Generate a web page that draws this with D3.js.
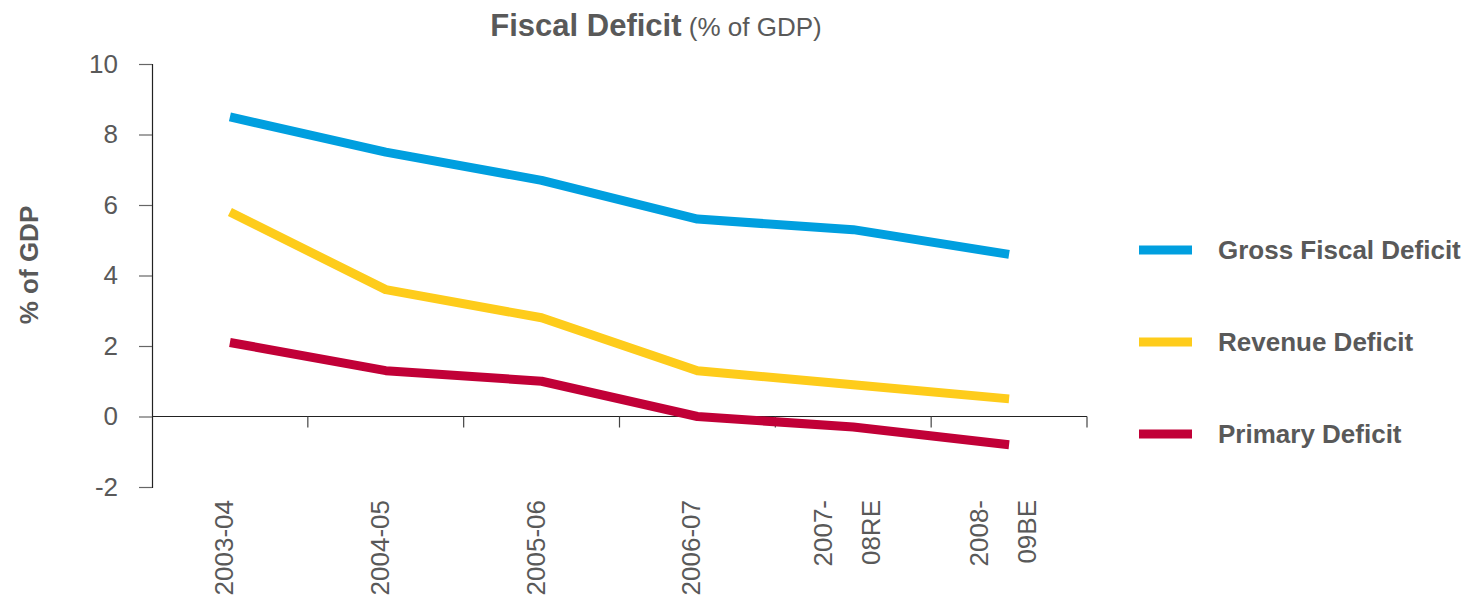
<!DOCTYPE html>
<html>
<head>
<meta charset="utf-8">
<script src="https://cdn.jsdelivr.net/npm/d3@7"></script>
<style>
  html, body { margin: 0; padding: 0; background: #fff; }
  svg { display: block; font-family: "Liberation Sans", Arial, sans-serif; }
</style>
</head>
<body>
<svg id="chart" width="1472" height="596"></svg>
<script>
// Fiscal years on the category axis (each label may wrap onto two lines)
const years = ["2003-04", "2004-05", "2005-06", "2006-07", "2007-08RE", "2008-09BE"];
const yearLabels = [["2003-04"], ["2004-05"], ["2005-06"], ["2006-07"], ["2007-", "08RE"], ["2008-", "09BE"]];

// Deficits as % of GDP
const grossFiscalDeficit = [8.5, 7.5, 6.7, 5.6, 5.3, 4.6];
const revenueDeficit     = [5.8, 3.6, 2.8, 1.3, 0.9, 0.5];
const primaryDeficit     = [2.1, 1.3, 1.0, 0.0, -0.3, -0.8];

const yTicks = [-2, 0, 2, 4, 6, 8, 10];

const seriesNames = ["Gross Fiscal Deficit", "Revenue Deficit", "Primary Deficit"];
const seriesColors = ["#009fdf", "#fecc1b", "#c10037"];
const seriesValues = [grossFiscalDeficit, revenueDeficit, primaryDeficit];

const svg = d3.select("#chart");
const textGray = "#595959";

const plot = { left: 152, right: 1087, top: 64, bottom: 487 };

const x = d3.scaleBand().domain(years).range([plot.left, plot.right]).padding(0);
const y = d3.scaleLinear().domain([-2, 10]).range([plot.bottom, plot.top]);

// Title
const title = svg.append("text")
  .attr("x", 656).attr("y", 36)
  .attr("text-anchor", "middle")
  .attr("fill", textGray);
title.append("tspan").attr("font-weight", "bold").attr("font-size", 31).text("Fiscal Deficit");
title.append("tspan").attr("font-size", 26).text(" (% of GDP)");

// Y axis
const yAxis = svg.append("g")
  .attr("transform", `translate(${plot.left},0)`)
  .call(d3.axisLeft(y).tickValues(yTicks).tickSize(13).tickPadding(8)
    .tickFormat(d => String(d)));
yAxis.select(".domain").attr("stroke", "#222").attr("stroke-width", 1.2);
yAxis.selectAll(".tick line").attr("stroke", "#666").attr("stroke-width", 1.2);
yAxis.selectAll(".tick text")
  .attr("font-size", 26).attr("fill", textGray)
  .attr("font-family", "Liberation Sans, Arial, sans-serif")
  .attr("dx", -13);

// Y axis title
svg.append("text")
  .attr("transform", `translate(38,265) rotate(-90)`)
  .attr("text-anchor", "middle")
  .attr("font-size", 26).attr("font-weight", "bold")
  .attr("fill", textGray)
  .text("% of GDP");

// X axis along zero, ticks at category boundaries
const xAxisG = svg.append("g").attr("transform", `translate(0,${y(0)})`);
xAxisG.append("line")
  .attr("x1", plot.left).attr("x2", plot.right)
  .attr("y1", 0).attr("y2", 0)
  .attr("stroke", "#222").attr("stroke-width", 1.2);
xAxisG.selectAll("line.tick")
  .data(years)
  .join("line")
  .attr("class", "tick")
  .attr("x1", d => x(d) + x.bandwidth())
  .attr("x2", d => x(d) + x.bandwidth())
  .attr("y1", 0).attr("y2", 11)
  .attr("stroke", "#444").attr("stroke-width", 1.2);

// Category labels, rotated, hanging from a common baseline
const labelTop = 500;
const labelG = svg.append("g");
yearLabels.forEach((lines, i) => {
  const cx = x(years[i]) + x.bandwidth() / 2 - 6;
  const gap = 48;
  lines.forEach((ln, j) => {
    const off = (j - (lines.length - 1) / 2) * gap;
    labelG.append("text")
      .attr("transform", `translate(${cx + off + 9},${labelTop}) rotate(-90)`)
      .attr("text-anchor", "end")
      .attr("font-size", 26)
      .attr("fill", textGray)
      .text(ln);
  });
});

// Series lines
const line = d3.line()
  .x((d, i) => x(years[i]) + x.bandwidth() / 2)
  .y(d => y(d));

seriesValues.forEach((vals, k) => {
  svg.append("path")
    .datum(vals)
    .attr("d", line)
    .attr("fill", "none")
    .attr("stroke", seriesColors[k])
    .attr("stroke-width", 9)
    .attr("stroke-linejoin", "round")
    .attr("stroke-linecap", "butt");
});

// Legend
const legendY = [250, 342, 434];
const legend = svg.append("g");
seriesNames.forEach((name, k) => {
  legend.append("line")
    .attr("x1", 1139).attr("x2", 1192)
    .attr("y1", legendY[k]).attr("y2", legendY[k])
    .attr("stroke", seriesColors[k]).attr("stroke-width", 9);
  legend.append("text")
    .attr("x", 1218).attr("y", legendY[k] + 9)
    .attr("font-size", 26).attr("font-weight", "bold")
    .attr("fill", textGray)
    .text(name);
});
</script>
</body>
</html>
